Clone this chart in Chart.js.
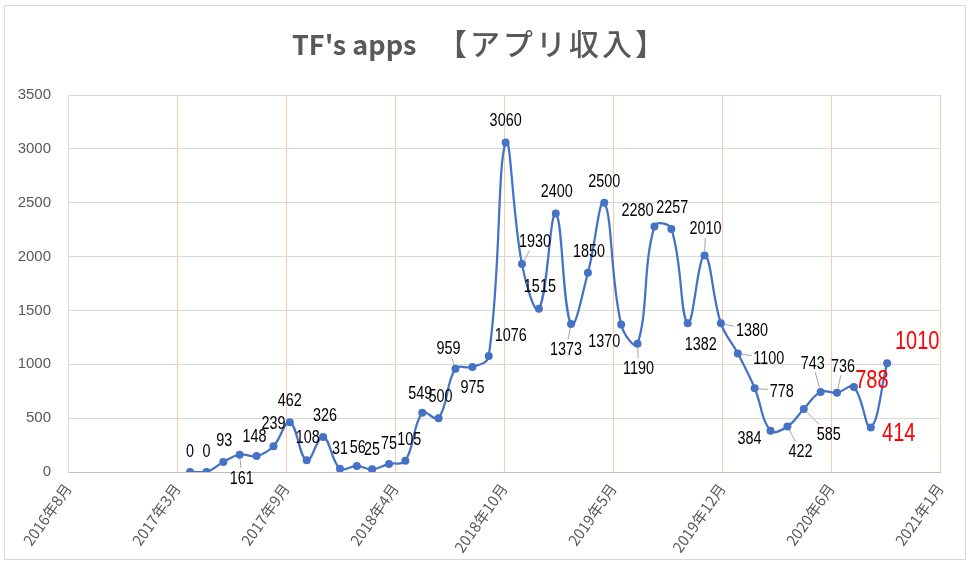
<!DOCTYPE html>
<html>
<head>
<meta charset="utf-8">
<script src="https://cdn.jsdelivr.net/npm/chart.js@4"></script>
<style>
    html, body { margin: 0; padding: 0; background: #fff; }
    #chart { display: block; }
</style>
</head>
<body>
<canvas id="chart" width="970" height="565"></canvas>
<script>
// monthly app income (yen)
const months = [
    '2017-04', '2017-05', '2017-06', '2017-07', '2017-08', '2017-09', '2017-10', '2017-11', '2017-12',
    '2018-01', '2018-02', '2018-03', '2018-04', '2018-05', '2018-06', '2018-07', '2018-08', '2018-09',
    '2018-10', '2018-11', '2018-12',
    '2019-01', '2019-02', '2019-03', '2019-04', '2019-05', '2019-06', '2019-07', '2019-08', '2019-09',
    '2019-10', '2019-11', '2019-12',
    '2020-01', '2020-02', '2020-03', '2020-04', '2020-05', '2020-06', '2020-07', '2020-08', '2020-09',
    '2020-10'
];
const income = [
    0, 0, 93, 161, 148, 239, 462, 108, 326,
    31, 56, 25, 75, 105, 549, 500, 959, 975,
    1076, 3060, 1930,
    1515, 2400, 1373, 1850, 2500, 1370, 1190, 2280, 2257,
    1382, 2010, 1380,
    1100, 778, 384, 422, 585, 743, 736, 788, 414,
    1010
];
const highlighted = ['2020-08', '2020-09', '2020-10'];

// date axis: starts 2016/8/20, one major tick every 200 days
const axisStart = [2016, 8, 20];
const tickLabels = ['2016年8月', '2017年3月', '2017年9月', '2018年4月', '2018年10月',
    '2019年5月', '2019年12月', '2020年6月', '2021年1月'];
const yTicks = [0, 500, 1000, 1500, 2000, 2500, 3000, 3500];

const titleLatin = "TF's apps";
const titleJa = '【アプリ収入】';

// where each data label sits relative to its point: [dx, dy, leader line]
const labelOffsets = [
    [0, -21], [0, -21], [1, -22], [2, 23, 1], [-2, -20], [0, -23], [0, -22], [1, -23], [2, -22],
    [0, -21], [1, -19], [0, -20], [0, -21], [4, -22], [-2, -20], [2, -22], [-7, -21, 1], [0, 20],
    [22, -21], [0, -22], [13, -23, 1],
    [1, -23], [1, -22], [-5, 25, 1], [1, -22], [0, -22], [-17, 17], [1, 24, 1], [-17, -16], [1, -22],
    [13, 21], [1, -27, 1], [31, 7, 1],
    [31, 5, 1], [27, 3, 1], [-21, 7], [13, 24, 1], [25, 25, 1], [-8, -29, 1], [6, -27, 1], [18, -7],
    [28, 6],
    [30, -22]
];

const DAY = 86400000;
const start = Date.UTC(axisStart[0], axisStart[1] - 1, axisStart[2]);
const dayOf = (m) => {
    const [y, mo] = m.split('-').map(Number);
    return (Date.UTC(y, mo - 1, 1) - start) / DAY;
};

// no narrow font installed: squeeze Liberation Sans horizontally instead
const SQUEEZE = 0.8;

const frame = {
    id: 'frame',
    beforeDraw(chart) {
        const ctx = chart.ctx;
        ctx.save();
        ctx.fillStyle = '#fff';
        ctx.fillRect(0, 0, chart.width, chart.height);
        ctx.strokeStyle = '#d9d9d9';
        ctx.lineWidth = 1;
        ctx.strokeRect(4.5, 5.5, 961, 554);
        ctx.restore();
    },
    afterDraw(chart) {
        const ctx = chart.ctx;
        ctx.save();
        ctx.fillStyle = '#595959';
        ctx.textBaseline = 'middle';
        ctx.textAlign = 'left';
        ctx.font = 'bold 27px "Noto Sans CJK JP", "Noto Sans", sans-serif';
        ctx.fillText(titleLatin, 292, 45);
        ctx.font = '500 30px "Noto Sans CJK JP", sans-serif';
        ctx.letterSpacing = '3px';
        ctx.fillText(titleJa, 437, 44);
        ctx.restore();
    }
};

const valueLabels = {
    id: 'valueLabels',
    afterDatasetsDraw(chart) {
        const ctx = chart.ctx,
            meta = chart.getDatasetMeta(0);
        meta.data.forEach((pt, i) => {
            const [dx, dy, leader] = labelOffsets[i];
            const big = highlighted.includes(months[i]);
            const text = String(income[i]);
            ctx.save();
            ctx.font = (big ? '25px ' : '18px ') + '"Liberation Sans", Arial, sans-serif';
            const w = ctx.measureText(text).width * SQUEEZE,
                h = big ? 18 : 13;
            const cx = pt.x + dx,
                cy = pt.y + dy;
            if (leader) {
                const len = Math.hypot(dx, dy);
                const t = Math.min((w / 2 + 2) / (Math.abs(dx) || 1e-6), (h / 2 + 3) / (Math.abs(dy) || 1e-6), 1);
                ctx.strokeStyle = '#a6a6a6';
                ctx.lineWidth = 1;
                ctx.beginPath();
                ctx.moveTo(pt.x + dx / len * 4, pt.y + dy / len * 4);
                ctx.lineTo(cx - dx * t, cy - dy * t);
                ctx.stroke();
            }
            ctx.fillStyle = big ? '#ff0000' : '#000';
            ctx.textAlign = 'center';
            ctx.textBaseline = 'middle';
            ctx.translate(cx, cy);
            ctx.scale(SQUEEZE, 1);
            ctx.fillText(text, 0, 1);
            ctx.restore();
        });
    }
};

new Chart(document.getElementById('chart'), {
    type: 'line',
    data: {
        datasets: [{
            data: months.map((m, i) => ({ x: dayOf(m), y: income[i] })),
            borderColor: '#4472C4',
            backgroundColor: '#4472C4',
            borderWidth: 2.25,
            pointRadius: 4,
            pointBorderWidth: 0,
            pointBackgroundColor: '#4472C4',
            tension: 0.4,
            fill: false
        }]
    },
    options: {
        responsive: false,
        animation: false,
        devicePixelRatio: 1,
        layout: {
            padding: { top: 95, right: 30, bottom: 0, left: 0 }
        },
        plugins: {
            legend: { display: false },
            title: { display: false },
            tooltip: { enabled: false }
        },
        scales: {
            x: {
                type: 'linear',
                min: 0,
                max: (tickLabels.length - 1) * 200,
                afterBuildTicks: (scale) => {
                    scale.ticks = tickLabels.map((_, i) => ({ value: i * 200 }));
                },
                afterFit: (scale) => { scale.height = 93; },
                grid: {
                    drawTicks: false,
                    color: (c) => c.index === 0 ? '#d9d9d9' : '#f8cbad',
                    lineWidth: 1
                },
                border: { color: '#bfbfbf', width: 1 },
                ticks: {
                    autoSkip: false,
                    minRotation: 55,
                    maxRotation: 55,
                    padding: 8,
                    color: '#595959',
                    font: { size: 15, family: '"Noto Sans CJK JP", sans-serif' },
                    callback: (v) => tickLabels[Math.round(v / 200)]
                }
            },
            y: {
                min: 0,
                max: 3500,
                afterBuildTicks: (scale) => {
                    scale.ticks = yTicks.map(v => ({ value: v }));
                },
                afterFit: (scale) => { scale.width = 68; },
                grid: { drawTicks: false, color: '#d9d9d9' },
                border: { color: '#d9d9d9' },
                ticks: {
                    padding: 17,
                    color: '#595959',
                    font: { size: 15, family: '"Liberation Sans", Arial, sans-serif' },
                    callback: (v) => String(v)
                }
            }
        }
    },
    plugins: [frame, valueLabels]
});
</script>
</body>
</html>
